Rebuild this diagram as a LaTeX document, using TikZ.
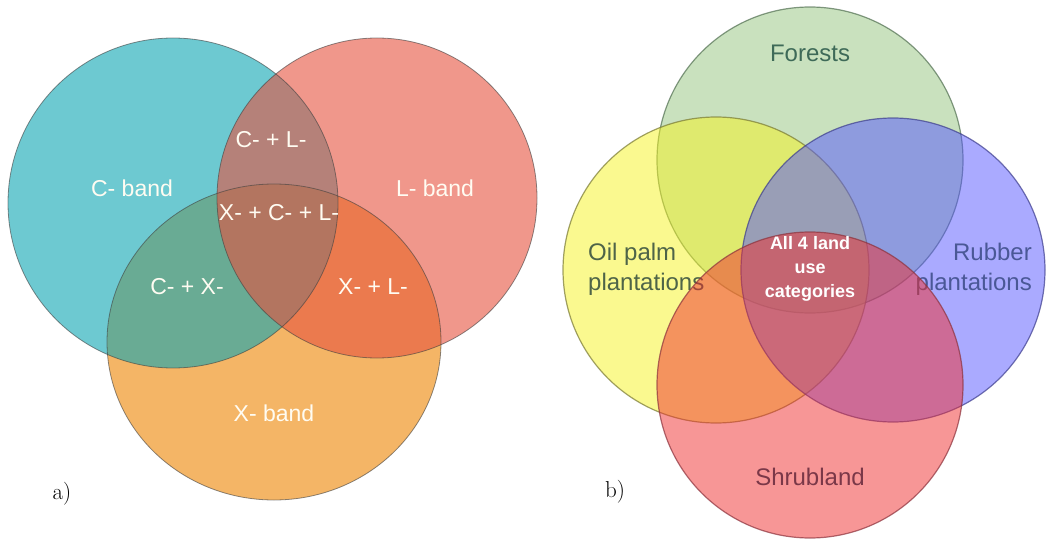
\documentclass[tikz,border=0pt]{standalone}
\usepackage{fontspec}
\newfontfamily\arial{Liberation Sans}
\definecolor{Cc}{RGB}{12,165,178}
\definecolor{Lc}{RGB}{230,82,62}
\definecolor{Xc}{RGB}{237,132,0}
\definecolor{Fc}{RGB}{147,196,125}
\definecolor{Oc}{RGB}{245,243,32}
\definecolor{Rc}{RGB}{85,85,255}
\definecolor{Sc}{RGB}{240,45,46}
\definecolor{Fd}{RGB}{80,110,80}
\definecolor{Od}{RGB}{120,120,50}
\definecolor{Rd}{RGB}{60,60,140}
\definecolor{Sd}{RGB}{140,50,60}
\definecolor{Ftxt}{RGB}{62,106,88}
\definecolor{Otxt}{RGB}{78,100,72}
\definecolor{Rtxt}{RGB}{74,88,150}
\definecolor{Stxt}{RGB}{122,56,72}
\definecolor{Wtxt}{RGB}{255,252,242}
\tikzset{
  leftset/.style={fill opacity=0.6},
  leftedge/.style={draw=black!75, draw opacity=0.6, line width=0.8pt},
  rightset/.style={fill opacity=0.5, draw opacity=0.7, line width=1.2pt},
  lbl/.style={inner sep=0pt, text=Wtxt, font=\arial\fontsize{23}{27}\selectfont},
  rlbl/.style={inner sep=0pt, font=\arial\fontsize{24}{30}\selectfont},
  tag/.style={inner sep=0pt, font=\fontsize{23}{27}\selectfont}
}
\begin{document}
\begin{tikzpicture}[x=1pt,y=-1pt]
\useasboundingbox (0,0) rectangle (1046,540);
% ---------- a) ----------
\fill[leftset, Xc] (274,342) ellipse [x radius=167pt, y radius=158pt];
\fill[leftset, Cc] (173,203) circle [radius=165pt];
\fill[leftset, Lc] (377,198) circle [radius=160pt];
\draw[leftedge] (274,342) ellipse [x radius=167pt, y radius=158pt];
\draw[leftedge] (173,203) circle [radius=165pt];
\draw[leftedge] (377,198) circle [radius=160pt];
\node[lbl] (cband) at (132,188) {C- band};
\node[lbl] (lband) at (435,188) {L- band};
\node[lbl] (xband) at (274,413) {X- band};
\node[lbl] (cl) at (271,140) {C- + L-};
\node[lbl] (xcl) at (279,213) {X- + C- + L-};
\node[lbl] (cx) at (187,287) {C- + X-};
\node[lbl] (xl) at (373,287) {X- + L-};
\node[tag] (ta) at (62,494) {a)};
% ---------- b) ----------
\filldraw[rightset, fill=Fc, draw=Fd] (810,160) circle [radius=153pt];
\filldraw[rightset, fill=Oc, draw=Od] (716,270) circle [radius=153pt];
\filldraw[rightset, fill=Rc, draw=Rd] (893,270) circle [radius=152pt];
\node[rlbl, text=Otxt, align=left, anchor=west] (oil) at (588,269) {Oil palm\\plantations};
\node[rlbl, text=Rtxt, align=right, anchor=east] (rub) at (1032,269) {Rubber\\plantations};
\filldraw[rightset, fill=Sc, draw=Sd] (810,385) circle [radius=153pt];
\node[rlbl, text=Ftxt] (for) at (810,53) {Forests};
\node[rlbl, text=Stxt] (shr) at (810,477) {Shrubland};
\node[inner sep=0pt, text=white, align=center, font=\arial\bfseries\fontsize{18}{24}\selectfont] (all) at (810,269) {All 4 land\\use\\categories};
\node[tag] (tb) at (615,492) {b)};
\end{tikzpicture}
\end{document}
